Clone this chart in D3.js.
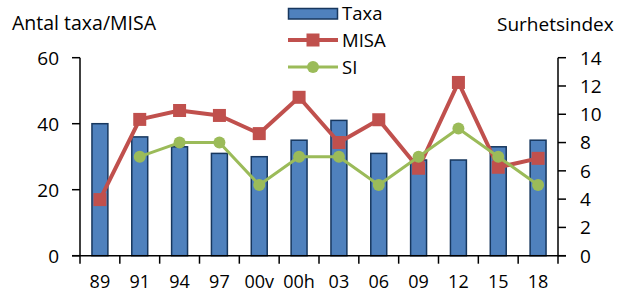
<!DOCTYPE html>
<html>
<head>
<meta charset="utf-8">
<script src="https://cdn.jsdelivr.net/npm/d3@7"></script>
<style>
  body { margin: 0; background: #fff; }
  svg text { font-family: "Open Sans", "Noto Sans", sans-serif; fill: #000; }
</style>
</head>
<body>
<div id="chart"></div>
<script>
// values
let years = ["89", "91", "94", "97", "00v", "00h", "03", "06", "09", "12", "15", "18"];
let taxa = [40, 36, 33, 31, 30, 35, 41, 31, 29, 29, 33, 35];
let misa = [17, 41.3, 44, 42.5, 37, 48, 34.3, 41.2, 26.5, 52.5, 26.8, 29.5];
let si = [null, 7, 8, 8, 5, 7, 7, 5, 7, 9, 7, 5];
let leftTicks = [0, 20, 40, 60];
let rightTicks = [0, 2, 4, 6, 8, 10, 12, 14];

let W = 628, H = 293;
let plot = {left: 80, right: 558, top: 57.7, bottom: 255.7};
let blue = "#4F81BD", navy = "#17375E", red = "#C0504D", green = "#9BBB59";

let svg = d3.select("#chart").append("svg").attr("width", W).attr("height", H);

let x = d3.scaleBand().domain(years).range([plot.left, plot.right])
  .paddingInner(0.6).paddingOuter(0.3);
let slot = d3.scaleLinear().domain([0, years.length]).range([plot.left, plot.right]);
let yL = d3.scaleLinear().domain([0, 60]).range([plot.bottom, plot.top]);
let yR = d3.scaleLinear().domain([0, 14]).range([plot.bottom, plot.top]);
let cx = d => x(d) + x.bandwidth() / 2;

// bars
svg.append("g").selectAll("rect").data(taxa).join("rect")
  .attr("x", (d, i) => x(years[i]))
  .attr("y", d => yL(d))
  .attr("width", x.bandwidth())
  .attr("height", d => yL(0) - yL(d))
  .attr("fill", blue).attr("stroke", navy).attr("stroke-width", 1.5);

// axes
let axisG = svg.append("g").attr("stroke", "#000").attr("stroke-width", 1.5);
axisG.append("line").attr("x1", plot.left).attr("x2", plot.left).attr("y1", yL(60)).attr("y2", yL(0));
axisG.append("line").attr("x1", plot.right).attr("x2", plot.right).attr("y1", yR(14)).attr("y2", yR(0));
axisG.append("line").attr("x1", plot.left - 8).attr("x2", plot.right + 8).attr("y1", yL(0)).attr("y2", yL(0));
axisG.selectAll(".tl").data(leftTicks).join("line")
  .attr("x1", plot.left - 8).attr("x2", plot.left).attr("y1", d => yL(d)).attr("y2", d => yL(d));
axisG.selectAll(".tr").data(rightTicks).join("line")
  .attr("x1", plot.right).attr("x2", plot.right + 8).attr("y1", d => yR(d)).attr("y2", d => yR(d));
axisG.selectAll(".tx").data(d3.range(years.length + 1)).join("line")
  .attr("x1", d => slot(d)).attr("x2", d => slot(d)).attr("y1", yL(0)).attr("y2", yL(0) + 8);

svg.append("g").selectAll("text").data(leftTicks).join("text")
  .attr("x", 59).attr("y", d => yL(d)).attr("dy", "0.36em")
  .attr("text-anchor", "end").style("font-size", "19px").text(d => d);
svg.append("g").selectAll("text").data(rightTicks).join("text")
  .attr("x", 580).attr("y", d => yR(d)).attr("dy", "0.36em")
  .style("font-size", "19px").text(d => d);
svg.append("g").selectAll("text").data(years).join("text")
  .attr("x", d => cx(d)).attr("y", 287.5)
  .attr("text-anchor", "middle").style("font-size", "18px").text(d => d);

svg.append("text").attr("x", 12).attr("y", 30).style("font-size", "19.5px").text("Antal taxa/MISA");
svg.append("text").attr("x", 497).attr("y", 31).style("font-size", "19px").text("Surhetsindex");

// MISA line
let lineL = d3.line().x((d, i) => cx(years[i])).y(d => yL(d));
svg.append("path").datum(misa).attr("d", lineL)
  .attr("fill", "none").attr("stroke", red).attr("stroke-width", 4).attr("stroke-linejoin", "round");
svg.append("g").selectAll("rect").data(misa).join("rect")
  .attr("x", (d, i) => cx(years[i]) - 6.5).attr("y", d => yL(d) - 6.5)
  .attr("width", 13).attr("height", 13).attr("fill", red);

// SI line
let siPts = si.map((v, i) => ({v, i})).filter(d => d.v != null);
let lineR = d3.line().x(d => cx(years[d.i])).y(d => yR(d.v));
svg.append("path").datum(siPts).attr("d", lineR)
  .attr("fill", "none").attr("stroke", green).attr("stroke-width", 3).attr("stroke-linejoin", "round");
svg.append("g").selectAll("circle").data(siPts).join("circle")
  .attr("cx", d => cx(years[d.i])).attr("cy", d => yR(d.v)).attr("r", 6).attr("fill", green);

// legend
let lg = svg.append("g");
lg.append("rect").attr("x", 288.5).attr("y", 8.5).attr("width", 49).attr("height", 10.5)
  .attr("fill", blue).attr("stroke", navy).attr("stroke-width", 1.5);
lg.append("line").attr("x1", 288).attr("x2", 338).attr("y1", 40).attr("y2", 40)
  .attr("stroke", red).attr("stroke-width", 4);
lg.append("rect").attr("x", 306.5).attr("y", 33.5).attr("width", 13).attr("height", 13).attr("fill", red);
lg.append("line").attr("x1", 288).attr("x2", 338).attr("y1", 67).attr("y2", 67)
  .attr("stroke", green).attr("stroke-width", 3);
lg.append("circle").attr("cx", 313).attr("cy", 67).attr("r", 6).attr("fill", green);
lg.selectAll("text").data(["Taxa", "MISA", "SI"]).join("text")
  .attr("x", 342).attr("y", (d, i) => 13.5 + i * 27).attr("dy", "0.36em")
  .style("font-size", "18.5px").text(d => d);
</script>
</body>
</html>
